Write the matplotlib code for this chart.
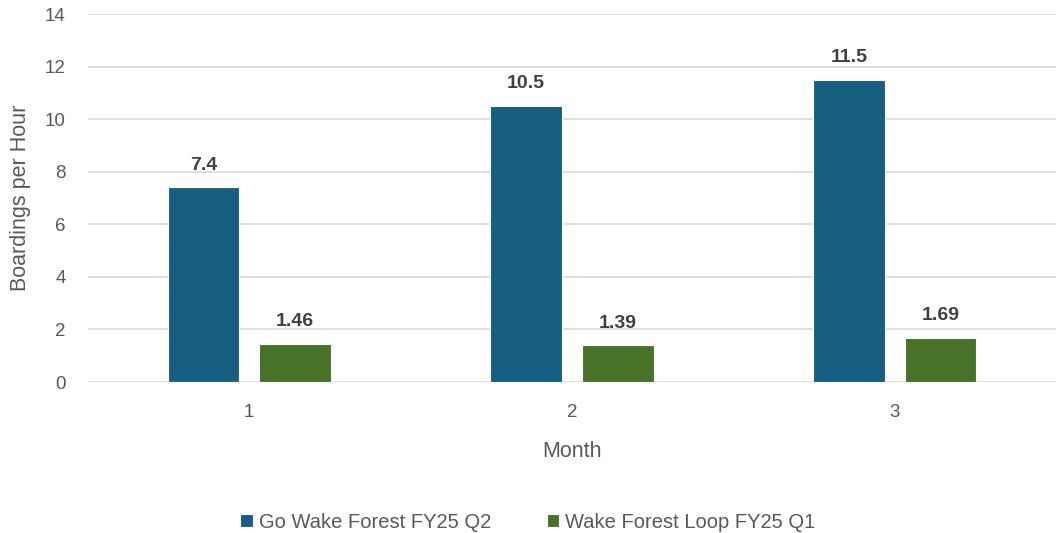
import matplotlib
matplotlib.use('Agg')
import matplotlib.pyplot as plt
import numpy as np

months = ['1', '2', '3']
go_wake = [7.4, 10.5, 11.5]
loop = [1.46, 1.39, 1.69]
labels_go = ['7.4', '10.5', '11.5']
labels_loop = ['1.46', '1.39', '1.69']
series_names = ['Go Wake Forest FY25 Q2', 'Wake Forest Loop FY25 Q1']

plt.rcParams['font.family'] = ['Liberation Sans', 'DejaVu Sans']

fig = plt.figure(figsize=(10.56, 5.33), dpi=100)
ax = fig.add_axes([0.0833, 0.2833, 0.9167, 0.6904])

x = np.arange(len(months))
w = 0.223
off = 0.142
b1 = ax.bar(x - off, go_wake, w, color='#175E82', edgecolor='white', linewidth=0.8,
            label=series_names[0], zorder=3)
b2 = ax.bar(x + off, loop, w, color='#477228', edgecolor='white', linewidth=0.8,
            label=series_names[1], zorder=3)

for bars, labs in ((b1, labels_go), (b2, labels_loop)):
    for r, t in zip(bars, labs):
        ax.annotate(t, (r.get_x() + r.get_width() / 2, r.get_height()),
                    xytext=(0, 10), textcoords='offset points', ha='center', va='bottom',
                    fontsize=14, fontweight='bold', color='#404040')

ax.set_xlim(-0.5, 2.5)
ax.set_ylim(0, 14)
ax.set_yticks(range(0, 15, 2))
ax.set_xticks(x)
ax.set_xticklabels(months)
ax.grid(axis='y', color='#D9D9D9', linewidth=1.2, zorder=0)
for s in ax.spines.values():
    s.set_visible(False)
ax.tick_params(axis='both', length=0, labelsize=13.5, labelcolor='#595959')
ax.tick_params(axis='x', pad=16)
ax.tick_params(axis='y', pad=16)
ax.set_xlabel('Month', fontsize=15.5, color='#595959', labelpad=14)
ax.set_ylabel('Boardings per Hour', fontsize=15.5, color='#595959', labelpad=10)

fig.legend(handles=[b1, b2], loc='lower center', bbox_to_anchor=(0.5, -0.032), ncol=2,
           frameon=False, fontsize=14.5, labelcolor='#595959', handlelength=0.6,
           handleheight=0.6, handletextpad=0.3, columnspacing=2.8)

fig.savefig('out.png', dpi=100)
